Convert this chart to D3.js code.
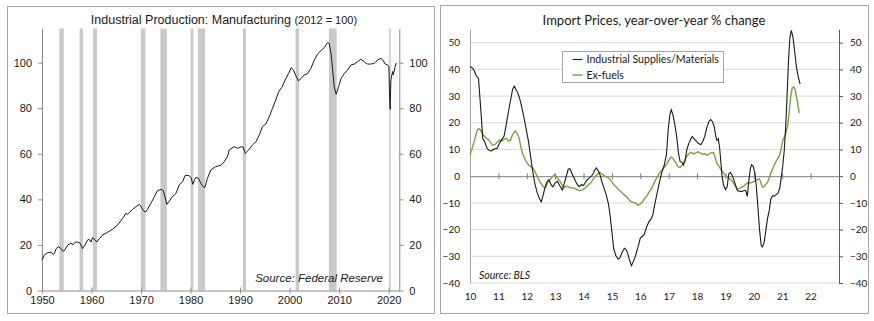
<!DOCTYPE html>
<html>
<head>
<meta charset="utf-8">
<script src="https://cdn.jsdelivr.net/npm/d3@7"></script>
<style>
  html, body { margin: 0; padding: 0; background: #fff; }
  svg { display: block; }
</style>
</head>
<body>
<svg></svg>
<script>
// global settings

var w = 874
var h = 321

var svg = d3.select('svg')
    .attr('width', w)
    .attr('height', h)

// --- data: industrial production, manufacturing (2012 = 100), [year, index]
var ipSeries = [
  [1950.0, 13.4], [1950.5, 15.6], [1951.1, 16.6], [1951.8, 16.8], [1952.3, 15.8], [1952.5, 16.3],
  [1952.9, 18.5], [1953.35, 19.2], [1953.8, 18.5], [1954.2, 17.3], [1954.5, 17.4], [1955.2, 20.0],
  [1955.85, 20.7], [1956.3, 20.1], [1956.7, 21.2], [1957.2, 21.3], [1957.7, 20.7], [1958.2, 18.4],
  [1958.7, 20.0], [1959.2, 22.2], [1959.5, 22.5], [1959.9, 21.3], [1960.2, 23.2], [1960.75, 22.2],
  [1961.05, 21.3], [1961.6, 22.8], [1962.2, 24.3], [1963.2, 25.5], [1964.25, 26.9], [1965.25, 28.7],
  [1966.3, 31.7], [1966.95, 33.9], [1967.3, 33.4], [1967.6, 34.2], [1968.3, 35.6], [1969.0, 36.8],
  [1969.65, 37.8], [1970.0, 36.8], [1970.45, 35.1], [1970.85, 34.4], [1971.3, 35.6], [1972.0, 38.3],
  [1972.7, 41.2], [1973.3, 43.8], [1974.0, 44.4], [1974.5, 43.8], [1974.8, 41.4], [1975.2, 37.8],
  [1975.7, 39.2], [1976.35, 41.2], [1977.05, 42.6], [1977.7, 46.3], [1978.4, 47.8], [1978.9, 50.5],
  [1979.7, 50.4], [1980.1, 49.6], [1980.45, 46.6], [1980.8, 48.6], [1981.1, 49.7], [1981.6, 49.2],
  [1982.1, 47.0], [1982.55, 45.6], [1982.9, 45.2], [1983.4, 49.2], [1984.1, 52.9], [1985.0, 54.3],
  [1986.15, 55.0], [1986.8, 56.5], [1987.5, 59.0], [1987.8, 61.7], [1988.8, 63.1], [1989.5, 62.4],
  [1990.2, 63.1], [1990.6, 63.0], [1991.05, 60.2], [1991.7, 61.6], [1992.5, 63.9], [1993.2, 65.3],
  [1993.9, 68.3], [1994.5, 71.9], [1995.2, 73.1], [1995.9, 76.3], [1996.55, 80.0], [1997.2, 83.6],
  [1997.8, 87.3], [1998.45, 89.2], [1999.1, 92.4], [1999.8, 95.3], [2000.3, 97.8], [2000.75, 96.9],
  [2001.3, 94.1], [2001.8, 92.0], [2002.3, 93.1], [2002.95, 94.6], [2003.6, 95.1], [2004.3, 97.5],
  [2005.0, 101.2], [2005.65, 103.8], [2006.35, 105.3], [2007.0, 106.6], [2007.65, 108.8], [2008.0, 108.5],
  [2008.35, 104.1], [2008.7, 96.8], [2009.0, 89.5], [2009.4, 86.1], [2009.9, 89.5], [2010.4, 93.1],
  [2011.0, 95.1], [2011.7, 96.8], [2012.4, 99.0], [2013.05, 99.4], [2013.7, 100.4], [2014.4, 101.5],
  [2015.1, 100.4], [2015.7, 99.4], [2016.4, 99.4], [2017.1, 99.7], [2017.75, 101.2], [2018.45, 101.9],
  [2018.8, 101.2], [2019.3, 99.4], [2019.8, 99.0], [2020.05, 98.2], [2020.15, 88.0], [2020.3, 79.5],
  [2020.45, 92.4], [2020.8, 96.1], [2020.95, 94.6], [2021.3, 98.2], [2021.55, 99.8]
]

// NBER recessions, [start, end] in decimal years
var recessions = [
  [1953.5, 1954.4], [1957.6, 1958.3], [1960.3, 1961.1], [1969.95, 1970.9], [1973.9, 1975.2],
  [1980.0, 1980.55], [1981.5, 1982.9], [1990.55, 1991.2], [2001.2, 2001.9], [2007.95, 2009.5],
  [2020.1, 2020.35]
]

var ipYTicks = [0, 20, 40, 60, 80, 100]
var ipXTicks = [1950, 1960, 1970, 1980, 1990, 2000, 2010, 2020]

// --- data: import prices, y/y % change, [year, percent]
var supplies = [
  [2010.00, 41.1], [2010.08, 40.5], [2010.15, 39.5], [2010.22, 37.6], [2010.30, 36.6], [2010.38, 25],
  [2010.45, 14], [2010.52, 12.8], [2010.60, 10.5], [2010.68, 9.6], [2010.76, 9.5], [2010.85, 10.2],
  [2010.95, 10.4], [2011.05, 12.5], [2011.12, 13.8], [2011.20, 15], [2011.28, 19.5], [2011.36, 24.5],
  [2011.44, 29], [2011.50, 32.5], [2011.56, 33.7], [2011.62, 32.5], [2011.68, 31.2], [2011.74, 29.5],
  [2011.82, 26], [2011.90, 22], [2011.98, 17.5], [2012.06, 13], [2012.14, 7], [2012.20, 2.4],
  [2012.28, -2.5], [2012.36, -6], [2012.45, -8.5], [2012.51, -9.6], [2012.58, -7], [2012.66, -3.5],
  [2012.72, -1.9], [2012.78, -1.4], [2012.86, -3.3], [2012.92, -4], [2013.00, -2.5], [2013.08, -1.9],
  [2013.16, -3.5], [2013.25, -5.2], [2013.32, -2.8], [2013.38, -0.5], [2013.46, 2.6], [2013.52, 2.8],
  [2013.60, 0.8], [2013.68, -1], [2013.76, -2.8], [2013.84, -3.9], [2013.92, -3.2], [2014.00, -3.5],
  [2014.08, -2], [2014.16, -1], [2014.26, -0.2], [2014.34, 0.9], [2014.40, 2.4], [2014.45, 3.1],
  [2014.52, 2], [2014.58, 0.5], [2014.64, -1.8], [2014.72, -4.5], [2014.80, -7], [2014.88, -10.5],
  [2014.94, -15], [2015.00, -21], [2015.06, -27], [2015.14, -29.8], [2015.22, -31], [2015.28, -30.6],
  [2015.36, -28.5], [2015.44, -27], [2015.50, -27.5], [2015.56, -29], [2015.62, -31.5], [2015.69, -33.5],
  [2015.76, -31.8], [2015.84, -29.5], [2015.92, -26.5], [2016.00, -23.2], [2016.08, -22.5], [2016.14, -21.8],
  [2016.22, -19], [2016.30, -17.2], [2016.38, -16], [2016.44, -14.5], [2016.52, -10], [2016.60, -6],
  [2016.68, -2], [2016.76, 1.5], [2016.84, 4], [2016.92, 8], [2016.98, 17], [2017.04, 23],
  [2017.09, 24.9], [2017.16, 22.5], [2017.22, 19], [2017.28, 14.9], [2017.34, 9], [2017.40, 5.5],
  [2017.46, 5.2], [2017.52, 4.2], [2017.58, 5.8], [2017.64, 10], [2017.70, 12], [2017.76, 13.5],
  [2017.83, 14.9], [2017.90, 14], [2017.98, 13], [2018.06, 12.2], [2018.13, 11.8], [2018.20, 13],
  [2018.27, 14.9], [2018.34, 18], [2018.42, 20.5], [2018.48, 21.2], [2018.54, 20.5], [2018.60, 18.7],
  [2018.66, 15], [2018.70, 13.4], [2018.75, 14], [2018.80, 10], [2018.84, 5], [2018.88, 0],
  [2018.93, -3.2], [2019.00, -5], [2019.06, -4], [2019.12, 1], [2019.18, 1.4], [2019.26, -0.3],
  [2019.34, -2.8], [2019.42, -5.5], [2019.50, -5.6], [2019.58, -5.8], [2019.66, -5.3], [2019.72, -5.5],
  [2019.77, -7.6], [2019.82, -2], [2019.88, 3], [2019.92, 4.3], [2019.98, 3.6], [2020.04, 1],
  [2020.08, -3], [2020.14, -11], [2020.20, -20], [2020.26, -26], [2020.30, -26.5], [2020.36, -25],
  [2020.42, -20.5], [2020.48, -16], [2020.54, -13], [2020.60, -8.5], [2020.66, -7.3], [2020.72, -7.5],
  [2020.80, -6.8], [2020.86, -6.3], [2020.92, -4], [2020.97, 0], [2021.02, 4], [2021.07, 9.5],
  [2021.12, 18], [2021.17, 30], [2021.22, 43], [2021.27, 52], [2021.32, 54.6], [2021.38, 52],
  [2021.44, 46.5], [2021.50, 41], [2021.56, 37.4], [2021.63, 34.5]
]

var exFuels = [
  [2010.00, 8.1], [2010.08, 10.5], [2010.16, 13.5], [2010.24, 16.8], [2010.30, 17.8], [2010.36, 17.5],
  [2010.42, 16.2], [2010.50, 15], [2010.58, 14.2], [2010.66, 13.6], [2010.74, 12.4], [2010.80, 11.6],
  [2010.88, 11.8], [2010.96, 12.8], [2011.04, 13.5], [2011.12, 13.2], [2011.20, 13.8], [2011.28, 14.2],
  [2011.36, 13.2], [2011.42, 13.4], [2011.48, 15], [2011.55, 16.5], [2011.61, 16.9], [2011.67, 15.8],
  [2011.73, 14.3], [2011.79, 11], [2011.85, 8.5], [2011.92, 6.8], [2011.98, 5.5], [2012.06, 4.2],
  [2012.14, 3.6], [2012.22, 3], [2012.30, 1.5], [2012.38, -0.5], [2012.46, -2], [2012.54, -3.3],
  [2012.62, -4.4], [2012.68, -4], [2012.76, -1.8], [2012.84, -1], [2012.92, 0], [2012.98, 0.6],
  [2013.06, -0.5], [2013.14, -1.5], [2013.22, -2.8], [2013.30, -4.3], [2013.38, -3.8], [2013.46, -3.9],
  [2013.54, -4.4], [2013.62, -4.3], [2013.70, -4.6], [2013.78, -5.1], [2013.86, -5.4], [2013.94, -5.2],
  [2014.02, -4.8], [2014.10, -4], [2014.18, -3.2], [2014.26, -2.4], [2014.34, -1.2], [2014.42, 0],
  [2014.50, 0.8], [2014.57, 1.4], [2014.64, 0.9], [2014.72, 0.2], [2014.80, -0.2], [2014.88, -0.6],
  [2014.96, -1.5], [2015.04, -2.8], [2015.12, -3.8], [2015.20, -4.6], [2015.28, -5.5], [2015.36, -6.3],
  [2015.44, -7], [2015.52, -7.8], [2015.60, -8.8], [2015.68, -9.6], [2015.76, -9.9], [2015.84, -10.1],
  [2015.92, -10.9], [2016.00, -10.4], [2016.08, -9.6], [2016.16, -8.3], [2016.24, -7.2], [2016.32, -5.8],
  [2016.40, -4.6], [2016.48, -2.6], [2016.56, -1], [2016.64, 0.6], [2016.72, 1.8], [2016.80, 2.8],
  [2016.88, 3.8], [2016.96, 5], [2017.04, 6.6], [2017.10, 7.2], [2017.16, 6.4], [2017.24, 5.2],
  [2017.32, 3.6], [2017.40, 3.2], [2017.48, 4.2], [2017.56, 5.8], [2017.64, 7.6], [2017.72, 8.4],
  [2017.80, 8.9], [2017.88, 8.3], [2017.96, 8.7], [2018.04, 9.1], [2018.12, 8.6], [2018.20, 8.2],
  [2018.28, 8.4], [2018.36, 7.8], [2018.44, 8.4], [2018.52, 8.9], [2018.58, 8.8], [2018.64, 7],
  [2018.70, 4.8], [2018.78, 3.6], [2018.86, 2.2], [2018.94, 1], [2019.02, 0.2], [2019.10, -0.6],
  [2019.18, -1.2], [2019.26, -2.2], [2019.34, -3.6], [2019.42, -4.9], [2019.50, -4.6], [2019.58, -4.1],
  [2019.66, -3.6], [2019.74, -2.8], [2019.82, -2.4], [2019.90, -2.5], [2019.98, -2.1], [2020.06, -1.6],
  [2020.14, -1.2], [2020.20, -1], [2020.25, -2.5], [2020.30, -4.2], [2020.36, -3.9], [2020.42, -3],
  [2020.48, -2.4], [2020.54, -0.8], [2020.60, 1.2], [2020.66, 2.6], [2020.72, 4.2], [2020.78, 5.5],
  [2020.84, 6.6], [2020.90, 7.6], [2020.96, 10], [2021.02, 13.5], [2021.08, 14.8], [2021.14, 16.5],
  [2021.20, 19.5], [2021.25, 24.5], [2021.30, 30], [2021.35, 33], [2021.41, 33.4], [2021.46, 32.2],
  [2021.52, 28.7], [2021.60, 23.7]
]

var ipxYTicks = [-40, -30, -20, -10, 0, 10, 20, 30, 40, 50]
var ipxXTicks = [2010, 2011, 2012, 2013, 2014, 2015, 2016, 2017, 2018, 2019, 2020, 2021, 2022]
var seriesNames = ['Industrial Supplies/Materials', 'Ex-fuels']
var seriesColors = ['#1a1a1a', '#7aa33a']

var arial = 'Liberation Sans, Arial, sans-serif'
var calibri = 'Lato, Open Sans, sans-serif'

svg.append('rect').attr('width', w).attr('height', h).attr('fill', '#fff')

// -----------------
// left panel: industrial production

var left = svg.append('g')

left.append('rect')
  .attr('x', 7.5).attr('y', 6.5)
  .attr('width', 427).attr('height', 307)
  .attr('fill', 'none').attr('stroke', '#a6a6a6')

var xL = d3.scaleLinear().domain([1950, 2022.15]).range([42, 399.3])
var yL = d3.scaleLinear().domain([0, 115]).range([290.5, 28.5])

left.selectAll('rect.rec')
  .data(recessions)
  .enter()
  .append('rect')
  .classed('rec', true)
  .attr('x', function (d) { return xL(d[0]) })
  .attr('width', function (d) { return Math.max(1.5, xL(d[1]) - xL(d[0])) })
  .attr('y', yL(115))
  .attr('height', yL(0) - yL(115))
  .attr('fill', '#c9c9c9')

var axisL = left.append('g')
  .attr('transform', 'translate(' + xL.range()[0] + ',0)')
  .call(d3.axisLeft(yL).tickValues(ipYTicks).tickSize(4).tickSizeOuter(0))

var axisR = left.append('g')
  .attr('transform', 'translate(' + xL.range()[1] + ',0)')
  .call(d3.axisRight(yL).tickValues(ipYTicks).tickSize(4).tickSizeOuter(0).tickPadding(6))

var axisB = left.append('g')
  .attr('transform', 'translate(0,' + yL(0) + ')')
  .call(d3.axisBottom(xL).tickValues(ipXTicks).tickFormat(d3.format('d')).tickSize(3).tickSizeOuter(0).tickPadding(3))

axisB.selectAll('.tick line').attr('y1', -3)

;[axisL, axisR, axisB].forEach(function (a) {
  a.select('.domain').attr('stroke', '#8c8c8c')
  a.selectAll('.tick line').attr('stroke', '#8c8c8c')
  a.selectAll('text')
    .attr('fill', '#1a1a1a')
    .style('font-family', arial)
    .style('font-size', '11px')
})
axisL.selectAll('text').attr('x', -10)

var lineL = d3.line()
  .x(function (d) { return xL(d[0]) })
  .y(function (d) { return yL(d[1]) })

left.append('path')
  .datum(ipSeries)
  .attr('d', lineL)
  .attr('fill', 'none')
  .attr('stroke', '#1a1a1a')
  .attr('stroke-width', 1)

var titleL = left.append('text')
  .attr('x', 224)
  .attr('y', 24)
  .attr('text-anchor', 'middle')
  .style('font-family', arial)
  .attr('fill', '#1a1a1a')
titleL.append('tspan').text('Industrial Production: Manufacturing ').style('font-size', '12.5px')
titleL.append('tspan').text('(2012 = 100)').style('font-size', '11px')

left.append('text')
  .text('Source: Federal Reserve')
  .attr('x', 383)
  .attr('y', 282)
  .attr('text-anchor', 'end')
  .style('font-family', arial)
  .style('font-size', '11.5px')
  .style('font-style', 'italic')
  .attr('fill', '#1a1a1a')

// -----------------
// right panel: import prices

var right = svg.append('g')

right.append('rect')
  .attr('x', 440.5).attr('y', 5.5)
  .attr('width', 428).attr('height', 308)
  .attr('fill', 'none').attr('stroke', '#a6a6a6')

var xR = d3.scaleLinear().domain([2010, 2023]).range([470, 839])
var yR = d3.scaleLinear().domain([-40, 55]).range([283, 29.3])

right.selectAll('line.grid')
  .data(ipxYTicks.filter(function (d) { return d !== 0 }))
  .enter()
  .append('line')
  .classed('grid', true)
  .attr('x1', xR(2010)).attr('x2', xR(2023))
  .attr('y1', function (d) { return yR(d) })
  .attr('y2', function (d) { return yR(d) })
  .attr('stroke', '#d9d9d9')

var axisRL = right.append('g')
  .attr('transform', 'translate(' + xR(2010) + ',0)')
  .call(d3.axisLeft(yR).tickValues(ipxYTicks).tickSize(0).tickSizeOuter(0).tickPadding(10))
axisRL.select('.domain').attr('stroke', '#a6a6a6')

var axisRR = right.append('g')
  .attr('transform', 'translate(' + xR(2023) + ',0)')
  .call(d3.axisRight(yR).tickValues(ipxYTicks).tickSize(4).tickSizeOuter(0).tickPadding(7))
axisRR.select('.domain').attr('stroke', '#595959')
axisRR.selectAll('.tick line').attr('stroke', '#595959')

// zero line with year ticks
var axisZ = right.append('g')
  .attr('transform', 'translate(0,' + yR(0) + ')')
  .call(d3.axisBottom(xR).tickValues(ipxXTicks.slice(1)).tickFormat('').tickSize(3).tickSizeOuter(0))
axisZ.select('.domain').attr('stroke', '#7f7f7f')
axisZ.selectAll('.tick line').attr('y1', -3).attr('stroke', '#7f7f7f')

var axisX = right.append('g')
  .attr('transform', 'translate(0,' + yR(-40) + ')')
  .call(d3.axisBottom(xR).tickValues(ipxXTicks).tickSize(0).tickPadding(10)
    .tickFormat(function (d) { return String(d).slice(2) }))
axisX.select('.domain').remove()

;[axisRL, axisRR, axisX].forEach(function (a) {
  a.selectAll('text')
    .attr('fill', '#1a1a1a')
    .style('font-family', calibri)
    .style('font-size', '10px')
})

var lineR = d3.line()
  .x(function (d) { return xR(d[0]) })
  .y(function (d) { return yR(d[1]) })

right.append('path')
  .datum(exFuels)
  .attr('d', lineR)
  .attr('fill', 'none')
  .attr('stroke', seriesColors[1])
  .attr('stroke-width', 1.4)

right.append('path')
  .datum(supplies)
  .attr('d', lineR)
  .attr('fill', 'none')
  .attr('stroke', seriesColors[0])
  .attr('stroke-width', 1.1)

right.append('text')
  .text('Import Prices, year-over-year % change')
  .attr('x', 654)
  .attr('y', 24.5)
  .attr('text-anchor', 'middle')
  .style('font-family', calibri)
  .style('font-size', '13px')
  .attr('fill', '#1a1a1a')

// legend
var legend = right.append('g').attr('transform', 'translate(562.5,51.5)')
legend.append('rect')
  .attr('width', 161).attr('height', 31)
  .attr('fill', '#fff').attr('stroke', '#a6a6a6')

var items = legend.selectAll('g.item')
  .data(seriesNames)
  .enter()
  .append('g')
  .classed('item', true)
  .attr('transform', function (d, i) { return 'translate(0,' + (8 + i * 15.5) + ')' })

items.append('line')
  .attr('x1', 10).attr('x2', 20)
  .attr('stroke', function (d, i) { return seriesColors[i] })
  .attr('stroke-width', function (d, i) { return i ? 1.4 : 1.1 })

items.append('text')
  .text(function (d) { return d })
  .attr('x', 24)
  .attr('dy', '0.35em')
  .style('font-family', calibri)
  .style('font-size', '10.6px')
  .attr('fill', '#1a1a1a')

right.append('text')
  .text('Source: BLS')
  .attr('x', 479)
  .attr('y', 279)
  .style('font-family', calibri)
  .style('font-size', '10.5px')
  .style('font-style', 'italic')
  .attr('fill', '#1a1a1a')
</script>
</body>
</html>
